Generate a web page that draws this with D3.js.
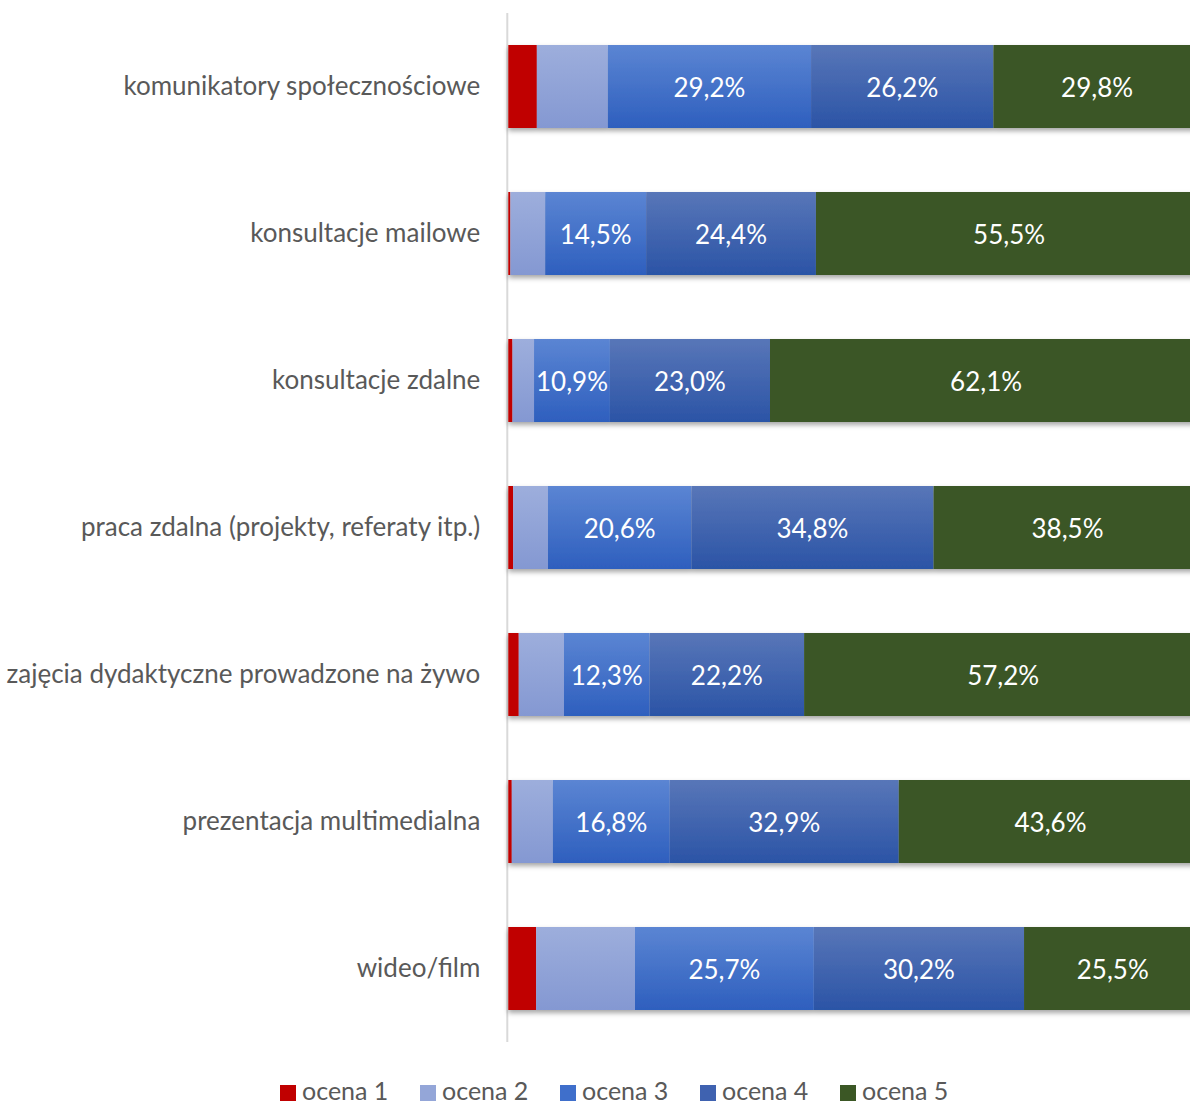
<!DOCTYPE html>
<html>
<head>
<meta charset="utf-8">
<script src="https://cdn.jsdelivr.net/npm/d3@7"></script>
<style>
  html, body { margin: 0; padding: 0; background: #fff; }
  svg { display: block; }
</style>
</head>
<body>
<svg id="chart" width="1190" height="1104"></svg>
<script>
// Categories (top to bottom)
const categories = [
  "komunikatory społecznościowe",
  "konsultacje mailowe",
  "konsultacje zdalne",
  "praca zdalna (projekty, referaty itp.)",
  "zajęcia dydaktyczne prowadzone na żywo",
  "prezentacja multimedialna",
  "wideo/film"
];

// Series names
const seriesNames = ["ocena 1", "ocena 2", "ocena 3", "ocena 4", "ocena 5"];

// Shares (%) per series, in category order
const ocena1 = [4.1, 0.3, 0.6, 0.7, 1.5, 0.5, 4.0];
const ocena2 = [10.2, 5.0, 3.1, 5.0, 6.5, 5.9, 14.2];
const ocena3 = [29.2, 14.5, 10.9, 20.6, 12.3, 16.8, 25.7];
const ocena4 = [26.2, 24.4, 23.0, 34.8, 22.2, 32.9, 30.2];
const ocena5 = [29.8, 55.5, 62.1, 38.5, 57.2, 43.6, 25.5];

// Which series carry data labels
const labelled = [false, false, true, true, true];

const seriesValues = [ocena1, ocena2, ocena3, ocena4, ocena5];

const rows = categories.map((c, i) => {
  const r = { category: c };
  seriesNames.forEach((s, k) => { r[s] = seriesValues[k][i]; });
  return r;
});

const FONT = "Lato, 'Open Sans', sans-serif";

const svg = d3.select("#chart");
const defs = svg.append("defs");

// Vertical shading for the blue series; flat fills for red and green
const fills = [
  { id: "g1", top: "#C00000", bottom: "#C00000" },
  { id: "g2", top: "#9DAEDC", bottom: "#8498D2" },
  { id: "g3", top: "#5B85D3", bottom: "#2E5FBE" },
  { id: "g4", top: "#5876B8", bottom: "#2B54A6" },
  { id: "g5", top: "#3B5725", bottom: "#3B5725" }
];
fills.forEach(f => {
  const g = defs.append("linearGradient")
    .attr("id", f.id).attr("x1", 0).attr("y1", 0).attr("x2", 0).attr("y2", 1);
  g.append("stop").attr("offset", "0%").attr("stop-color", f.top);
  g.append("stop").attr("offset", "100%").attr("stop-color", f.bottom);
});
const legendColors = ["#C00000", "#94A6D8", "#3F6FCB", "#3F62B0", "#3B5725"];

const shadow = defs.append("filter").attr("id", "shadow")
  .attr("x", "-5%").attr("y", "-20%").attr("width", "110%").attr("height", "150%");
shadow.append("feDropShadow")
  .attr("dx", 0).attr("dy", 3).attr("stdDeviation", 2.5)
  .attr("flood-color", "#000").attr("flood-opacity", 0.35);

const x = d3.scaleLinear().domain([0, 100]).range([508.3, 1204.3]);
const y = d3.scaleBand()
  .domain(categories)
  .range([13, 1042])
  .paddingInner(64 / 147)
  .paddingOuter(32 / 147);

const stack = d3.stack().keys(seriesNames);
const stacked = stack(rows);

// Vertical category axis line
svg.append("line")
  .attr("x1", x(0) - 1).attr("x2", x(0) - 1)
  .attr("y1", y.range()[0]).attr("y2", y.range()[1])
  .attr("stroke", "#D9D9D9").attr("stroke-width", 2);

// Bars
const barGroup = svg.append("g").attr("filter", "url(#shadow)");
stacked.forEach((layer, k) => {
  barGroup.append("g")
    .selectAll("rect")
    .data(layer)
    .join("rect")
    .attr("x", d => x(d[0]))
    .attr("y", d => y(d.data.category))
    .attr("width", d => x(d[1]) - x(d[0]))
    .attr("height", y.bandwidth())
    .attr("fill", `url(#${fills[k].id})`);
});

// Data labels
const fmt = v => d3.format(".1f")(v).replace(".", ",") + "%";
stacked.forEach((layer, k) => {
  if (!labelled[k]) return;
  svg.append("g")
    .selectAll("text")
    .data(layer)
    .join("text")
    .attr("x", d => (x(d[0]) + x(d[1])) / 2)
    .attr("y", d => y(d.data.category) + y.bandwidth() / 2 + 1.5)
    .attr("dy", "0.36em")
    .attr("text-anchor", "middle")
    .attr("fill", "#fff")
    .attr("font-family", FONT)
    .attr("font-size", 26)
    .text(d => fmt(d.data[seriesNames[k]]));
});

// Category labels
const yAxis = d3.axisLeft(y).tickSize(0).tickPadding(0);
const axisG = svg.append("g")
  .attr("transform", `translate(${x(0) - 28},0)`)
  .call(yAxis);
axisG.select(".domain").remove();
axisG.selectAll("text")
  .attr("fill", "#595959")
  .attr("font-family", FONT)
  .attr("font-size", 26);

// Legend
const legend = svg.append("g").attr("transform", "translate(280,1091)");
const item = legend.selectAll("g")
  .data(seriesNames)
  .join("g")
  .attr("transform", (d, i) => `translate(${i * 140},0)`);
item.append("rect")
  .attr("x", 0).attr("y", -6).attr("width", 16).attr("height", 16)
  .attr("fill", (d, i) => legendColors[i]);
item.append("text")
  .attr("x", 22).attr("y", 0).attr("dy", "0.36em")
  .attr("fill", "#595959")
  .attr("font-family", FONT)
  .attr("font-size", 25)
  .text(d => d);
</script>
</body>
</html>
